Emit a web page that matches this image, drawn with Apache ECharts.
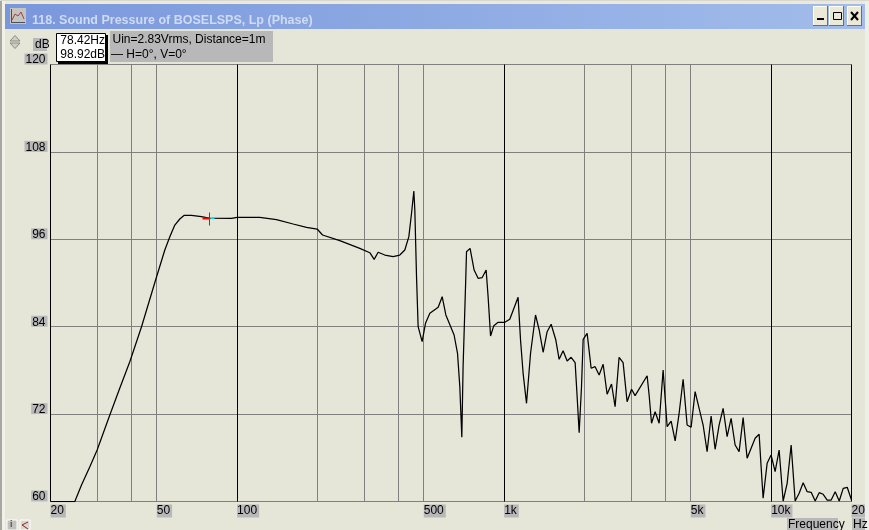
<!DOCTYPE html>
<html><head><meta charset="utf-8">
<style>html,body{margin:0;padding:0;background:#e6e6d8}#c{width:869px;height:530px}</style>
<script src="https://cdn.jsdelivr.net/npm/echarts@6/dist/echarts.min.js"></script>
</head><body><div id="c"></div>
<script>
const titleText = '118. Sound Pressure of BOSELSPS, Lp (Phase)';
const freqHz = [20,24.67,26.13,28.08,29.9,33.36,36.37,39.63,43.85,49.73,53.6,55.97,58.43,61,63.4,67.5,73.5,78.42,95.3,100,121.6,140.4,162.1,181.9,199.4,208.9,242.4,288.1,314,326,337.4,357.4,384,406.7,424.7,439.7,450,459,463,469.8,476.4,493.1,507.6,527,566.3,586.1,605,649.6,669,682.4,694.3,702,718.7,723,745.6,772,799,827,856.3,871,889.6,915,949.5,1006,1050,1128,1152,1178,1213,1256,1311,1353,1400,1449,1500,1562,1607,1663,1722,1782,1845,1877,1910,1949,1977,2046,2118,2192,2269,2349,2431,2525,2604,2695,2790,2888,3001,3094,3432,3492,3565,3677,3807,3940,4079,4222,4371,4523,4682,4846,5016,5192,5374,5563,5758,5960,6170,6385,6610,6842,7082,7331,7588,7855,8130,8712,9018,9173,9333,9661,10000,10351,10715,11092,11482,11885,12303,12735,13183,13646,14125,14622,15136,15668,16218,16788,17378,17989,18621,19275,20000];
const splDb = [60,60,62.27,64.78,67.07,71.88,75.58,79.19,84,90.65,94.53,96.36,97.96,98.79,99.3,99.3,99.1,98.92,98.88,99.02,99.02,98.69,98.1,97.65,97.41,96.59,95.81,94.76,94.16,93.25,94.22,93.84,93.61,93.84,94.53,96.36,99.57,102.63,100.02,90.87,84,81.94,84.47,85.84,86.66,88.12,85.61,82.86,80.35,75.76,68.81,78.51,90.87,94.3,94.76,91.78,90.65,90.73,91.78,88.12,82.72,84.14,84.6,84.6,85.02,88.04,82.17,77.6,73.48,80.35,85.61,83.55,80.49,83.31,84.33,82.17,79.52,80.7,79.29,79.8,79.06,74.39,69.45,75.76,82.27,83.09,78.29,78.51,77.37,78.84,74.72,76.13,73.02,79.8,79.06,73.7,75.41,74.53,77.27,74.62,70.74,72.33,70.74,78.05,70.27,71.05,68.31,72.11,76.78,70.5,70.19,75.08,72.8,70.5,66.84,71.74,67.17,70.5,72.8,68.9,71.42,67.76,66.84,71.51,65.93,68.68,69.23,64.78,60.44,65.24,66.38,64.09,67.07,60.07,62.5,67.76,60.07,61.13,62.58,61.35,61.26,60.07,61.21,60.99,60.2,60.2,61.35,60.07,61.81,61.95,60.2];
const gridFreqs = [20,30,40,50,100,200,300,400,500,1000,2000,3000,4000,5000,10000,20000];
const blackFreqs = [20,100,1000,10000,20000];
const labelFreqs = [20,50,100,500,1000,5000,10000,20000];
const labelTexts = ['20','50','100','500','1k','5k','10k','20k'];
const dbTicks = [60,72,84,96,108,120];
const cursorHz = 78.42, cursorDb = 98.92;
const legendLine1 = 'Uin=2.83Vrms, Distance=1m', legendLine2 = '\u2014 H=0\u00b0, V=0\u00b0';

const BG='#e6e6d8', TAG='#b8b8b8', GRID='#808080';
const F='Liberation Sans, Arial, sans-serif';
const txt=(x,y,text,o={})=>({type:'text',z:30,style:Object.assign({x,y,text,font:'12px '+F,fill:'#000'},o)});
const rect=(x,y,w,h,fill,o={})=>({type:'rect',z:20,shape:{x,y,width:w,height:h},style:Object.assign({fill},o)});
const seg=(a,b,c,d,stroke,w=1,z=25)=>({type:'line',z,shape:{x1:a,y1:b,x2:c,y2:d},style:{stroke,lineWidth:w}});
function btn(x,w){return [rect(x,6,w,20,'#ece9d8'),seg(x+.5,6,x+.5,26,'#fff'),seg(x,6.5,x+w,6.5,'#fff'),seg(x+w-.5,6,x+w-.5,26,'#716f64'),seg(x,25.5,x+w,25.5,'#716f64')];}

const chart=echarts.init(document.getElementById('c'),null,{renderer:'canvas'});
chart.setOption({
  animation:false,
  backgroundColor:BG,
  title:{text:titleText,left:27,top:9,textStyle:{fontFamily:F,fontWeight:'bold',fontSize:12.5,color:'#cfdbf2'}},
  grid:{left:50.5,top:64.5,width:801,height:437,containLabel:false,outerBoundsMode:'none'},
  xAxis:{type:'log',logBase:10,min:20,max:20000,
    axisLine:{show:false},
    axisTick:{show:false,customValues:gridFreqs},
    minorTick:{show:false},
    splitLine:{show:true,showMinLine:true,showMaxLine:true,lineStyle:{width:1,color:gridFreqs.map(f=>blackFreqs.includes(f)?'#000':GRID)}},
    axisLabel:{customValues:labelFreqs,show:true,hideOverlap:false,showMinLabel:true,showMaxLabel:true,margin:3,align:'left',verticalAlign:'top',color:'#000',fontFamily:F,fontSize:12,lineHeight:13,backgroundColor:TAG,padding:[0,2,0,0],
      formatter:v=>{const i=labelFreqs.findIndex(f=>Math.abs(f-v)<1e-6*f);return i>=0?labelTexts[i]:'';}}
  },
  yAxis:{type:'value',min:60,max:120,interval:12,
    axisLine:{show:false},axisTick:{show:false},
    splitLine:{show:true,lineStyle:{color:GRID,width:1}},
    axisLabel:{margin:3,color:'#000',fontFamily:F,fontSize:12,lineHeight:13,verticalAlign:'bottom',backgroundColor:TAG,padding:[0,2,-2,1],
      customValues:dbTicks,formatter:v=>String(v)}
  },
  series:[
    {name:'Lp',type:'line',showSymbol:false,symbol:'none',smooth:false,z:5,clip:true,
     lineStyle:{color:'#000',width:1.25},data:freqHz.map((f,i)=>[f,splDb[i]])},
    {name:'cursor',type:'custom',z:6,silent:true,data:[[cursorHz,cursorDb]],
     renderItem:(p,api)=>{const c=api.coord([api.value(0),api.value(1)]);const x=Math.round(c[0])+.5,y=Math.round(c[1])+.5;
       return {type:'group',children:[
        {type:'line',shape:{x1:x-7,y1:y,x2:x,y2:y},style:{stroke:'#ff0000',lineWidth:2}},
        {type:'line',shape:{x1:x+1,y1:y,x2:x+5,y2:y},style:{stroke:'#00e0e0',lineWidth:1}},
        {type:'line',shape:{x1:x,y1:y-6,x2:x,y2:y+7},style:{stroke:'#ff0000',lineWidth:1}}
       ]};}}
  ],
  graphic:{elements:[
    rect(0,0,869,4,'#ece9d8',{}),
    rect(865,0,4,530,'#efefe9'),
    rect(0,0,2,530,'#a8a8a0'),
    rect(2,0,3,530,'#f2f1e8'),
    seg(0,.5,869,.5,'#d8d8d0'),
    {type:'rect',z:-1,zlevel:0,shape:{x:5,y:4,width:860,height:25},style:{fill:new echarts.graphic.LinearGradient(0,0,1,0,[{offset:0,color:'#7a97dc'},{offset:1,color:'#a2bdea'}])}},
    rect(10,8,16,16,'#c4c4c0'),
    {type:'polyline',z:25,shape:{points:[[12,20],[15,14],[18,16],[21,12],[24,19]]},style:{stroke:'#a04040',fill:null,lineWidth:1}},
    seg(11,22.5,25,22.5,'#505050'),seg(11.5,9,11.5,23,'#505050'),
    ...btn(813,15),...btn(829,15),...btn(847,15),
    rect(817,18,7,2,'#000'),
    {type:'rect',z:25,shape:{x:833.5,y:12.5,width:8,height:7},style:{fill:null,stroke:'#000',lineWidth:1}},
    seg(851,12,858,20,'#000',2),seg(858,12,851,20,'#000',2),
    {type:'polygon',z:25,shape:{points:[[10,41],[15,35.5],[20,41]]},style:{fill:'#cfcfc8',stroke:'#8a8a84'}},
    {type:'polygon',z:25,shape:{points:[[10,43],[15,48.5],[20,43]]},style:{fill:'#cfcfc8',stroke:'#8a8a84'}},
    rect(58,35,50,29,'#000'),
    rect(56.5,33.5,49,28,'#fff',{stroke:'#000',lineWidth:1}),
    txt(105,35,'78.42Hz',{align:'right'}),
    txt(105,48.5,'98.92dB',{align:'right'}),
    rect(110,31,163,31,TAG),
    txt(112.5,34,legendLine1),
    txt(111,49,legendLine2),
    rect(33,38,14,13,TAG),txt(35,39,'dB'),
    rect(787,518,51,12,TAG),txt(788,519,'Frequency'),
    rect(852,518,13,12,TAG),txt(853,519,'Hz'),
    rect(865,500,4,22,'#efefe9',{z:40}),
    rect(7,520,10,10,'#c0c0bc',{stroke:'#fff'}),txt(10,520,'i',{font:'bold 9px '+F,fill:'#555'}),
    rect(20,520,10,10,'#d8d8d0',{stroke:'#fff'}),
    {type:'polyline',z:25,shape:{points:[[28,522],[22,525],[28,529]]},style:{stroke:'#902020',fill:null}},
  ]}
});
</script></body></html>
